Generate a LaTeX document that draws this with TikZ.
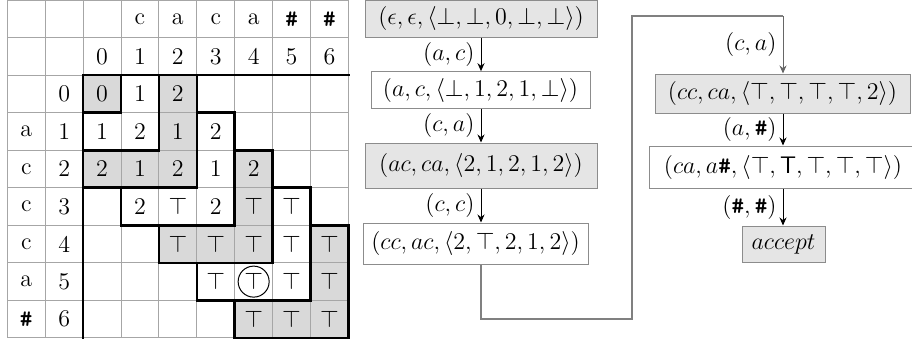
\documentclass[tikz,border=0pt]{standalone}
\usepackage{amsmath}
\usetikzlibrary{arrows.meta}
\newcommand{\hsh}{\texttt{\textbf{\#}}}
\begin{document}
\begin{tikzpicture}[x=0.5pt,y=-0.5pt,
  font=\fontsize{12}{14}\selectfont,
  thingrid/.style={draw=gray!70, line width=0.5pt},
  thickb/.style={line width=1.3pt, line cap=rect},
  cellfill/.style={fill=gray!30},
  cell/.style={inner sep=0pt},
  state/.style={draw=gray!90, line width=0.5pt, inner sep=0pt},
  gstate/.style={state, fill=gray!20},
  lbl/.style={inner sep=1pt, anchor=east},
  arr/.style={-{Stealth[length=4pt,width=3.5pt]}, line width=0.5pt},
  route/.style={draw=gray, line width=0.6pt}]
\useasboundingbox (0,0) rectangle (912,343);
\begin{scope}[shift={(7.3,0)}, x=18.95pt, y=-18.775pt]
  \fill[cellfill] (2,2) rectangle (3,3);
  \fill[cellfill] (4,2) -- (5,2) -- (5,5) -- (2,5) -- (2,4) -- (4,4) -- cycle;
  \fill[cellfill] (6,4) -- (7,4) -- (7,7) -- (4,7) -- (4,6) -- (6,6) -- cycle;
  \fill[cellfill] (8,6) -- (9,6) -- (9,9) -- (6,9) -- (6,8) -- (8,8) -- cycle;
  \foreach \k in {0,...,9} {
    \draw[thingrid] (\k,0) -- (\k,9);
    \draw[thingrid] (0,\k) -- (9,\k);
  }
  \draw[thickb] (2,9) -- (2,2) -- (9,2);
  \draw[thickb] (3,2) -- (3,3) -- (2,3);
  \draw[thickb] (4,2) -- (4,4) -- (2,4);
  \draw[thickb] (5,2) -- (5,5) -- (2,5);
  \draw[thickb] (5,3) -- (6,3) -- (6,6) -- (3,6) -- (3,5);
  \draw[thickb] (6,4) -- (7,4) -- (7,7) -- (4,7) -- (4,6);
  \draw[thickb] (7,5) -- (8,5) -- (8,8) -- (5,8) -- (5,7);
  \draw[thickb] (8,6) -- (9,6) -- (9,9) -- (6,9) -- (6,8);
  \foreach \t [count=\k from 3] in {c,a,c,a,\hsh,\hsh}
    \node[cell] (top\k) at (\k+0.5,0.5) {\t};
  \foreach \t [count=\k from 2] in {0,1,2,3,4,5,6}
    \node[cell] (idx\k) at (\k+0.5,1.5) {\t};
  \foreach \t [count=\k from 3] in {a,c,c,c,a,\hsh}
    \node[cell] (lft\k) at (0.5,\k+0.5) {\t};
  \foreach \t [count=\k from 2] in {0,1,2,3,4,5,6}
    \node[cell] (ldx\k) at (1.5,\k+0.5) {\t};
  \foreach \r/\c/\t in {2/2/0,2/3/1,2/4/2,
      3/2/1,3/3/2,3/4/1,3/5/2,
      4/2/2,4/3/1,4/4/2,4/5/1,4/6/2,
      5/3/2,5/4/$\top$,5/5/2,5/6/$\top$,5/7/$\top$,
      6/4/$\top$,6/5/$\top$,6/6/$\top$,6/7/$\top$,6/8/$\top$,
      7/5/$\top$,7/7/$\top$,7/8/$\top$,
      8/6/$\top$,8/7/$\top$,8/8/$\top$}
    \node[cell] (d\r-\c) at (\c+0.5,\r+0.5) {\t};
  \node[circle, draw, line width=0.5pt, minimum size=15.5pt, inner sep=0pt] (circ) at (6.5,7.5) {$\top$};
\end{scope}
% state nodes
\node[gstate, minimum width=116pt, minimum height=18.5pt] (b1) at (481,18.5)
  {$(\epsilon, \epsilon, \langle \bot, \bot, 0, \bot, \bot\rangle)$};
\node[state, minimum width=109.5pt, minimum height=18.3pt] (b2) at (480.5,90)
  {$(a, c, \langle \bot, 1, 2, 1, \bot\rangle)$};
\node[gstate, minimum width=116pt, minimum height=22.5pt] (b3) at (481,165.5)
  {$(ac, ca, \langle 2, 1, 2, 1, 2\rangle)$};
\node[state, minimum width=112.5pt, minimum height=20.5pt] (b4) at (475.5,243.5)
  {$(cc, ac, \langle 2, \top, 2, 1, 2\rangle)$};
\node[gstate, minimum width=127.5pt, minimum height=19.5pt] (b5) at (782.5,93.5)
  {$(cc, ca, \langle \top, \top, \top, \top, 2\rangle)$};
\node[state, minimum width=134pt, minimum height=21pt] (b6) at (783,167)
  {$(ca, a\mbox{\hsh}, \langle \top, \mbox{\textsf{T}}, \top, \top, \top\rangle)$};
\node[gstate, minimum width=41.5pt, minimum height=18pt] (b7) at (783.5,244)
  {$accept$};
% arrows
\draw[arr] (b1.south -| 481,0) -- (b2.north -| 481,0) node[lbl, midway, xshift=-2pt] (l1) {$(a,c)$};
\draw[arr] (b2.south -| 481,0) -- (b3.north -| 481,0) node[lbl, midway, xshift=-2pt] (l2) {$(c,a)$};
\draw[arr] (b3.south -| 481,0) -- (b4.north -| 481,0) node[lbl, midway, xshift=-2pt] (l3) {$(c,c)$};
\coordinate (bend1) at (632,319);
\coordinate (bend2) at (632,16);
\coordinate (top5) at (783,16);
\draw[route] (b4.south -| 481,0) |- (bend1) -- (bend2) -- (top5);
\draw[arr, draw=gray!80!black] (top5) -- (b5.north -| 783,0) node[lbl, midway, xshift=-2pt, text=black] (l4) {$(c,a)$};
\draw[arr] (b5.south -| 783,0) -- (b6.north -| 783,0) node[lbl, midway, xshift=-2pt] (l5) {$(a,\mbox{\hsh})$};
\draw[arr] (b6.south -| 783,0) -- (b7.north -| 783,0) node[lbl, midway, xshift=-2pt] (l6) {$(\mbox{\hsh},\mbox{\hsh})$};
\end{tikzpicture}
\end{document}
